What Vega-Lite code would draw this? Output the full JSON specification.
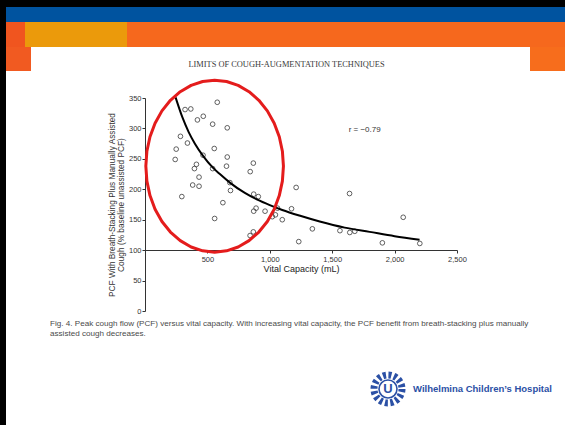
{
  "$schema": "https://vega.github.io/schema/vega-lite/v6.json",
  "background": "white",
  "padding": 0,
  "spacing": 0,
  "config": {"view": {"stroke": null}, "concat": {"spacing": 0}, "font": "Liberation Sans"},
  "datasets": {
    "points": [
      {"vc": 321, "pcf": 331}, {"vc": 367, "pcf": 332}, {"vc": 579, "pcf": 343}, {"vc": 467, "pcf": 320},
      {"vc": 420, "pcf": 314}, {"vc": 542, "pcf": 307}, {"vc": 659, "pcf": 301}, {"vc": 284, "pcf": 287},
      {"vc": 340, "pcf": 276}, {"vc": 250, "pcf": 266}, {"vc": 555, "pcf": 267}, {"vc": 465, "pcf": 256},
      {"vc": 242, "pcf": 249}, {"vc": 659, "pcf": 253}, {"vc": 868, "pcf": 243}, {"vc": 412, "pcf": 241},
      {"vc": 396, "pcf": 234}, {"vc": 653, "pcf": 238}, {"vc": 542, "pcf": 234}, {"vc": 843, "pcf": 229},
      {"vc": 433, "pcf": 220}, {"vc": 382, "pcf": 207}, {"vc": 433, "pcf": 205}, {"vc": 680, "pcf": 211},
      {"vc": 685, "pcf": 198}, {"vc": 295, "pcf": 188}, {"vc": 624, "pcf": 178}, {"vc": 871, "pcf": 192},
      {"vc": 908, "pcf": 188}, {"vc": 890, "pcf": 169}, {"vc": 871, "pcf": 164}, {"vc": 962, "pcf": 164},
      {"vc": 558, "pcf": 152}, {"vc": 1020, "pcf": 155}, {"vc": 1045, "pcf": 158}, {"vc": 1100, "pcf": 150},
      {"vc": 868, "pcf": 130}, {"vc": 842, "pcf": 124}, {"vc": 1062, "pcf": 169}, {"vc": 1174, "pcf": 168},
      {"vc": 1211, "pcf": 203}, {"vc": 1232, "pcf": 114}, {"vc": 1341, "pcf": 135}, {"vc": 1562, "pcf": 132},
      {"vc": 1639, "pcf": 193}, {"vc": 1641, "pcf": 129}, {"vc": 1681, "pcf": 131}, {"vc": 1902, "pcf": 112},
      {"vc": 2069, "pcf": 154}, {"vc": 2202, "pcf": 111}
    ],
    "curve": [
      {"vc": 245, "pcf": 351}, {"vc": 300, "pcf": 318}, {"vc": 350, "pcf": 294}, {"vc": 400, "pcf": 275},
      {"vc": 465, "pcf": 255}, {"vc": 542, "pcf": 236}, {"vc": 600, "pcf": 225}, {"vc": 680, "pcf": 211},
      {"vc": 800, "pcf": 194}, {"vc": 900, "pcf": 183}, {"vc": 1000, "pcf": 174}, {"vc": 1100, "pcf": 166},
      {"vc": 1250, "pcf": 156}, {"vc": 1400, "pcf": 147}, {"vc": 1600, "pcf": 137}, {"vc": 1800, "pcf": 130},
      {"vc": 2000, "pcf": 123}, {"vc": 2200, "pcf": 117}
    ],
    "ellipse": [{"vc": 558, "pcf": 238}],
    "rlabel": [{"vc": 1760, "pcf": 297, "label": "r = −0.79"}],
    "caption": [
      {"line": "1", "text": "Fig. 4. Peak cough flow (PCF) versus vital capacity. With increasing vital capacity, the PCF benefit from breath-stacking plus manually"},
      {"line": "2", "text": "assisted cough decreases."}
    ],
    "header": [{"t": "LIMITS OF COUGH-AUGMENTATION TECHNIQUES"}],
    "hospital": [{"t": "Wilhelmina Children’s Hospital"}],
    "logo": [{"u": "U"}]
  },
  "hconcat": [
    {"width": 6, "height": 425, "view": {"fill": "#000000", "stroke": null}, "data": {"values": [{}]}, "mark": {"type": "point", "opacity": 0}, "encoding": {}},
    {
      "spacing": 0,
      "vconcat": [
        {"width": 559, "height": 7, "view": {"fill": "#000000", "stroke": null}, "data": {"values": [{}]}, "mark": {"type": "point", "opacity": 0}, "encoding": {}},
        {"width": 559, "height": 15, "view": {"fill": "#00539f", "stroke": null}, "data": {"values": [{}]}, "mark": {"type": "point", "opacity": 0}, "encoding": {}},
        {
          "spacing": 0,
          "hconcat": [
            {"width": 19, "height": 25, "view": {"fill": "#f0551f", "stroke": null}, "data": {"values": [{}]}, "mark": {"type": "point", "opacity": 0}, "encoding": {}},
            {"width": 102, "height": 25, "view": {"fill": "#eb9a0b", "stroke": null}, "data": {"values": [{}]}, "mark": {"type": "point", "opacity": 0}, "encoding": {}},
            {"width": 438, "height": 25, "view": {"fill": "#f6681d", "stroke": null}, "data": {"values": [{}]}, "mark": {"type": "point", "opacity": 0}, "encoding": {}}
          ]
        },
        {
          "spacing": 0,
          "hconcat": [
            {"width": 25, "height": 24, "view": {"fill": "#f15a21", "stroke": null}, "data": {"values": [{}]}, "mark": {"type": "point", "opacity": 0}, "encoding": {}},
            {
              "spacing": 0,
              "vconcat": [
                {"width": 499, "height": 9, "data": {"values": [{}]}, "mark": {"type": "point", "opacity": 0}, "encoding": {}},
                {
                  "spacing": 0,
                  "hconcat": [
                    {"width": 12, "height": 15, "data": {"values": [{}]}, "mark": {"type": "point", "opacity": 0}, "encoding": {}},
                    {"width": 487, "height": 15, "data": {"name": "header"}, "mark": {"type": "text", "font": "Liberation Serif", "fontSize": 8.4, "color": "#3a3a3a", "baseline": "middle"}, "encoding": {"text": {"field": "t"}}}
                  ]
                }
              ]
            },
            {"width": 35, "height": 24, "view": {"fill": "#f76d1c", "stroke": null}, "data": {"values": [{}]}, "mark": {"type": "point", "opacity": 0}, "encoding": {}}
          ]
        },
        {"width": 559, "height": 3, "data": {"values": [{}]}, "mark": {"type": "point", "opacity": 0}, "encoding": {}},
        {
          "spacing": 0,
          "hconcat": [
            {"width": 101, "height": 213, "data": {"values": [{}]}, "mark": {"type": "point", "opacity": 0}, "encoding": {}},
            {
              "width": 312,
              "height": 213,
              "encoding": {
                "x": {"field": "vc", "type": "quantitative", "scale": {"domain": [0, 2500], "nice": false, "zero": false},
                  "axis": {"orient": "bottom", "offset": -61, "values": [500, 1000, 1500, 2000, 2500], "format": ",d", "title": "Vital Capacity (mL)", "grid": false, "labelFlush": false, "labelFontSize": 7.5, "labelColor": "#333333", "titleFontSize": 9, "titleFontWeight": "normal", "titleColor": "#222222", "domainColor": "#333333", "tickColor": "#333333", "tickSize": 3, "labelPadding": 2, "titlePadding": 2}},
                "y": {"field": "pcf", "type": "quantitative", "scale": {"domain": [0, 350], "nice": false},
                  "axis": {"values": [0, 50, 100, 150, 200, 250, 300, 350], "title": ["PCF With Breath-Stacking Plus Manually Assisted", "Cough (% baseline unassisted PCF)"], "grid": false, "labelFlush": false, "labelFontSize": 7.5, "labelColor": "#333333", "titleFontSize": 8.3, "titleFontWeight": "normal", "titleColor": "#333333", "titleLineHeight": 9, "domainColor": "#333333", "tickColor": "#333333", "tickSize": 3, "labelPadding": 1, "titlePadding": 3}}
              },
              "layer": [
                {"data": {"name": "points"}, "mark": {"type": "point", "shape": "circle", "filled": false, "size": 22, "color": "#3a3a3a", "strokeWidth": 0.8, "opacity": 1}},
                {"data": {"name": "curve"}, "mark": {"type": "line", "color": "#000000", "strokeWidth": 2, "interpolate": "monotone"}, "encoding": {}},
                {"data": {"name": "ellipse"}, "mark": {"type": "point", "shape": "M 0.8 0 L 0.7878 0.1736 L 0.7518 0.342 L 0.6928 0.5 L 0.6128 0.6428 L 0.5142 0.766 L 0.4 0.866 L 0.2736 0.9397 L 0.1389 0.9848 L 0 1 L -0.1389 0.9848 L -0.2736 0.9397 L -0.4 0.866 L -0.5142 0.766 L -0.6128 0.6428 L -0.6928 0.5 L -0.7518 0.342 L -0.7878 0.1736 L -0.8 0 L -0.7878 -0.1736 L -0.7518 -0.342 L -0.6928 -0.5 L -0.6128 -0.6428 L -0.5142 -0.766 L -0.4 -0.866 L -0.2736 -0.9397 L -0.1389 -0.9848 L 0 -1 L 0.1389 -0.9848 L 0.2736 -0.9397 L 0.4 -0.866 L 0.5142 -0.766 L 0.6128 -0.6428 L 0.6928 -0.5 L 0.7518 -0.342 L 0.7878 -0.1736 Z", "filled": false, "size": 29584, "color": "#e41c1c", "strokeWidth": 3, "strokeJoin": "round", "opacity": 1}},
                {"data": {"name": "rlabel"}, "mark": {"type": "text", "fontSize": 8, "color": "#333333"}, "encoding": {"text": {"field": "label"}}}
              ]
            },
            {"width": 108, "height": 213, "data": {"values": [{}]}, "mark": {"type": "point", "opacity": 0}, "encoding": {}}
          ]
        },
        {"width": 88, "height": 27, "data": {"name": "caption"}, "mark": {"type": "text", "align": "left", "baseline": "middle", "fontSize": 8.1, "color": "#4a4a4a"},
          "encoding": {"y": {"field": "line", "type": "ordinal", "scale": {"type": "point", "padding": 0.85}, "axis": null}, "text": {"field": "text"}}},
        {"width": 559, "height": 25, "data": {"values": [{}]}, "mark": {"type": "point", "opacity": 0}, "encoding": {}},
        {
          "spacing": 0,
          "hconcat": [
            {"width": 360, "height": 44, "data": {"values": [{}]}, "mark": {"type": "point", "opacity": 0}, "encoding": {}},
            {"width": 44, "height": 44, "data": {"name": "logo"},
              "layer": [
                {"mark": {"type": "point", "shape": "circle", "size": 784, "filled": false, "color": "#2b50a5", "strokeWidth": 7, "strokeDash": [3, 2.5], "strokeJoin": "round", "opacity": 1}},
                {"mark": {"type": "point", "shape": "circle", "size": 324, "filled": true, "fill": "#ffffff", "stroke": "#2b50a5", "strokeWidth": 1.6, "strokeJoin": "round", "opacity": 1}},
                {"mark": {"type": "text", "fontSize": 13, "fontWeight": "bold", "color": "#2b50a5", "baseline": "middle"}, "encoding": {"text": {"field": "u"}}}
              ]
            },
            {"width": 6, "height": 44, "data": {"name": "hospital"}, "mark": {"type": "text", "align": "left", "baseline": "middle", "fontSize": 9.5, "fontWeight": "bold", "color": "#2b50a5"}, "encoding": {"text": {"field": "t"}}}
          ]
        },
        {"width": 559, "height": 14, "data": {"values": [{}]}, "mark": {"type": "point", "opacity": 0}, "encoding": {}}
      ]
    }
  ]
}
